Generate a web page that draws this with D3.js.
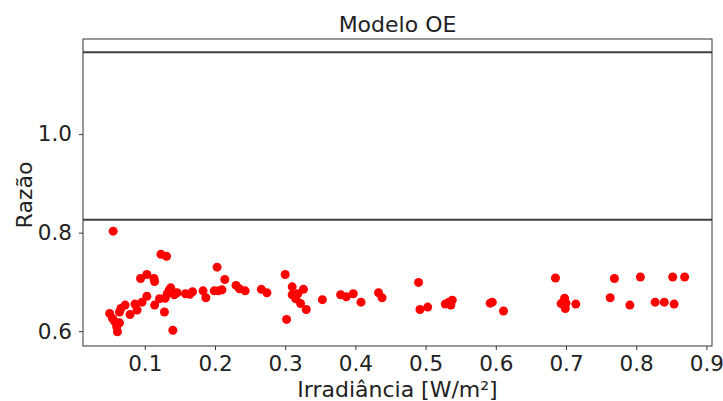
<!DOCTYPE html>
<html>
<head>
<meta charset="utf-8">
<script src="https://cdn.jsdelivr.net/npm/d3@7"></script>
<style>
  body { margin: 0; background: #fff; }
  text { font-family: 'DejaVu Sans', sans-serif; }
</style>
</head>
<body>
<svg id="chart" width="723" height="401"></svg>
<script>
// irradiance (x) and ratio (y)
const irradiance = [
  0.055, 0.123, 0.131, 0.094, 0.103, 0.113, 0.114, 0.203, 0.214,
  0.050, 0.054, 0.060, 0.061, 0.064, 0.057, 0.066, 0.064,
  0.072, 0.079, 0.086, 0.089, 0.096, 0.103, 0.114, 0.121, 0.128, 0.140,
  0.129, 0.132, 0.135, 0.137, 0.142, 0.146, 0.158, 0.164, 0.168,
  0.183, 0.187, 0.199, 0.205, 0.210,
  0.230, 0.235, 0.243, 0.266, 0.274, 0.300, 0.310, 0.310, 0.318, 0.326,
  0.315, 0.322, 0.330, 0.302, 0.353, 0.379, 0.387, 0.397, 0.408, 0.433,
  0.438, 0.490, 0.492, 0.503, 0.528, 0.533, 0.538, 0.536,
  0.592, 0.595, 0.611, 0.685, 0.698, 0.693, 0.700, 0.699, 0.714, 0.763,
  0.769, 0.791, 0.806, 0.827, 0.840, 0.854, 0.852, 0.869
];
const ratio = [
  0.803, 0.756, 0.752, 0.707, 0.715, 0.707, 0.701, 0.730, 0.705,
  0.636, 0.626, 0.609, 0.599, 0.617, 0.620, 0.646, 0.639,
  0.653, 0.634, 0.655, 0.643, 0.659, 0.671, 0.653, 0.666, 0.639, 0.602,
  0.667, 0.676, 0.684, 0.688, 0.674, 0.678, 0.676, 0.675, 0.680,
  0.682, 0.668, 0.682, 0.682, 0.684,
  0.693, 0.686, 0.682, 0.685, 0.678, 0.715, 0.690, 0.674, 0.676, 0.685,
  0.666, 0.656, 0.644, 0.624, 0.664, 0.674, 0.670, 0.676, 0.659, 0.678,
  0.668, 0.699, 0.644, 0.649, 0.655, 0.659, 0.663, 0.653,
  0.657, 0.659, 0.641, 0.708, 0.667, 0.656, 0.657, 0.646, 0.655, 0.668,
  0.707, 0.653, 0.710, 0.659, 0.659, 0.655, 0.710, 0.710
];
const limits = [1.166, 0.826];
const xTicks = [0.1, 0.2, 0.3, 0.4, 0.5, 0.6, 0.7, 0.8, 0.9];
const yTicks = [0.6, 0.8, 1.0];

const data = irradiance.map((x, i) => ({ x: x, y: ratio[i] }));

const svg = d3.select('svg#chart');
const width = 723, height = 401;
const margin = { top: 39, right: 11, bottom: 55, left: 83 };
const innerWidth = width - margin.left - margin.right;
const innerHeight = height - margin.top - margin.bottom;

const xScale = d3.scaleLinear().domain([0.012, 0.908]).range([0, innerWidth]);
const yScale = d3.scaleLinear().domain([0.570, 1.193]).range([innerHeight, 0]);

const g = svg.append('g')
  .attr('transform', `translate(${margin.left},${margin.top})`);

// reference lines
g.selectAll('.limit').data(limits)
  .enter().append('line')
    .attr('class', 'limit')
    .attr('x1', 0)
    .attr('x2', innerWidth)
    .attr('y1', d => yScale(d))
    .attr('y2', d => yScale(d))
    .attr('stroke', '#404040')
    .attr('stroke-width', 2);

g.selectAll('circle').data(data)
  .enter().append('circle')
    .attr('cx', d => xScale(d.x))
    .attr('cy', d => yScale(d.y))
    .attr('r', 4.5)
    .attr('fill', '#ff0000');

const xAxis = d3.axisBottom(xScale)
  .tickValues(xTicks)
  .tickFormat(d3.format('.1f'))
  .tickSize(4)
  .tickPadding(6);
const yAxis = d3.axisLeft(yScale)
  .tickValues(yTicks)
  .tickFormat(d3.format('.1f'))
  .tickSize(4)
  .tickPadding(7);

const xAxisG = g.append('g')
  .attr('transform', `translate(0,${innerHeight})`)
  .call(xAxis);
const yAxisG = g.append('g').call(yAxis);

[xAxisG, yAxisG].forEach(a => {
  a.select('.domain').remove();
  a.selectAll('.tick line').attr('stroke', '#333');
  a.selectAll('.tick text')
    .attr('fill', '#222')
    .style('font-size', '21.5px');
});

// frame
g.append('rect')
  .attr('width', innerWidth)
  .attr('height', innerHeight)
  .attr('fill', 'none')
  .attr('stroke', '#333')
  .attr('stroke-width', 1);

svg.append('text')
  .attr('x', margin.left + innerWidth / 2)
  .attr('y', 32)
  .attr('text-anchor', 'middle')
  .style('font-size', '22px')
  .attr('fill', '#222')
  .text('Modelo OE');

svg.append('text')
  .attr('x', margin.left + innerWidth / 2)
  .attr('y', 397)
  .attr('text-anchor', 'middle')
  .style('font-size', '22px')
  .attr('fill', '#222')
  .text('Irradiância [W/m²]');

svg.append('text')
  .attr('transform', `translate(32,195) rotate(-90)`)
  .attr('text-anchor', 'middle')
  .style('font-size', '22px')
  .attr('fill', '#222')
  .text('Razão');
</script>
</body>
</html>
